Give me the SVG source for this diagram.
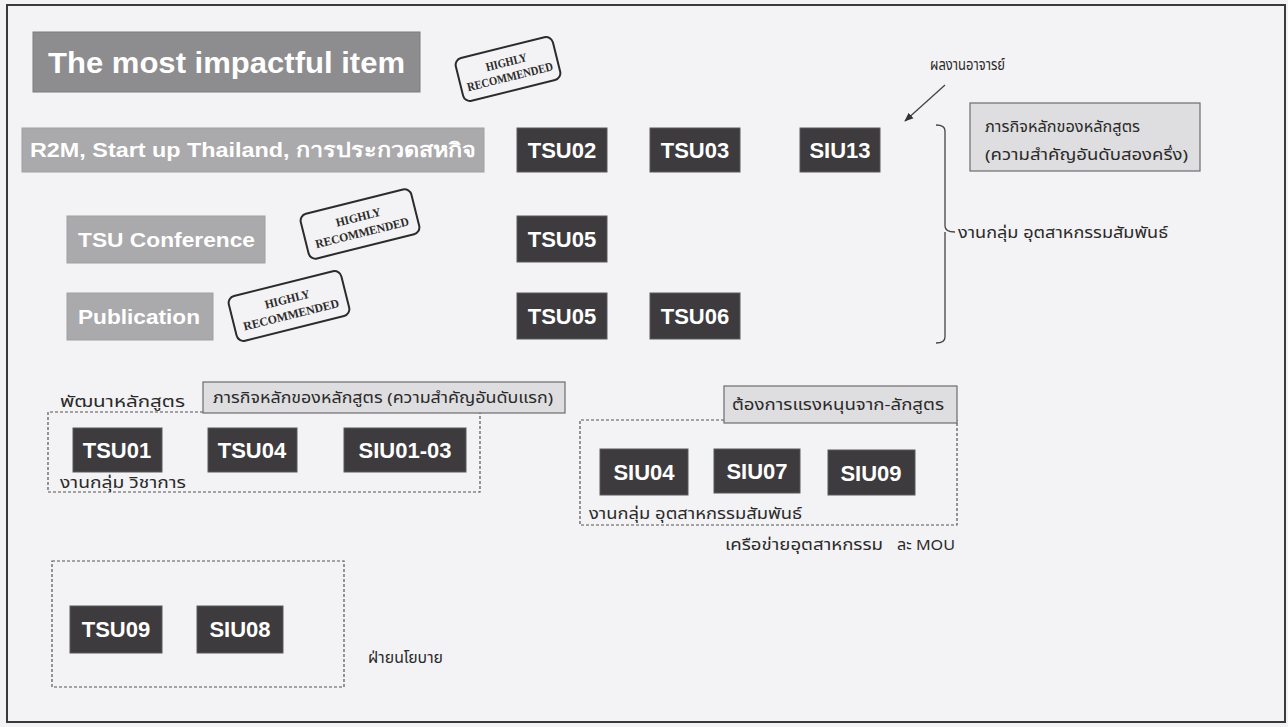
<svg xmlns="http://www.w3.org/2000/svg" width="1288" height="727" viewBox="0 0 1288 727">
<defs>
<style>
.bg{fill:#f3f2f4}
.frame{fill:none;stroke:#3a3a3a;stroke-width:2}
.head{fill:#8d8c8e;stroke:#7c7b7d;stroke-width:1}
.bar{fill:#aaa9ab;stroke:#a0a0a2;stroke-width:1}
.dark{fill:#3e3b3e;stroke:#5a585a;stroke-width:1}
.lbl{fill:#dedddf;stroke:#6d6c6e;stroke-width:1.2}
.dash{fill:none;stroke:#555;stroke-width:1.2;stroke-dasharray:3 2}
.wt{fill:#ffffff;font-family:"Liberation Sans",Arial,"Noto Sans",sans-serif;font-weight:bold}
.dt{fill:#ffffff;font-family:"Liberation Sans",Arial,sans-serif;font-weight:bold;font-size:22px;text-anchor:middle}
.th{fill:#2a2a2a;font-family:"Noto Sans","Noto Sans Thai","DejaVu Sans",sans-serif;font-size:15px}
.stamp rect{fill:none;stroke:#2b2b2b;stroke-width:2}
.stamp text{fill:#2b2b2b;font-family:"Liberation Serif","Times New Roman",serif;font-weight:bold;font-size:12px;text-anchor:middle}
.line{fill:none;stroke:#444;stroke-width:1.3}
</style>
<marker id="ah" viewBox="0 0 10 10" refX="9" refY="5" markerWidth="7" markerHeight="7" orient="auto">
<path d="M0,1 L10,5 L0,9 z" fill="#333"/>
</marker>
</defs>
<rect class="bg" x="0" y="0" width="1288" height="727"/>
<rect class="frame" x="7" y="5" width="1278" height="717"/>

<g id="title">
<rect class="head" x="33" y="32" width="387" height="60"/>
<text class="wt" x="48" y="73" font-size="30" textLength="357" lengthAdjust="spacingAndGlyphs">The most impactful item</text>
</g>

<g id="stamp1" class="stamp" transform="translate(508,69) rotate(-14)">
<rect x="-50" y="-22" width="100" height="44" rx="7"/>
<text x="0" y="-3" textLength="42" lengthAdjust="spacingAndGlyphs">HIGHLY</text>
<text x="0" y="12" textLength="88" lengthAdjust="spacingAndGlyphs">RECOMMENDED</text>
</g>
<g id="stamp2" class="stamp" transform="translate(360,224) rotate(-14)">
<rect x="-57" y="-23" width="114" height="46" rx="7"/>
<text x="0" y="-3" textLength="46" lengthAdjust="spacingAndGlyphs">HIGHLY</text>
<text x="0" y="13" textLength="96" lengthAdjust="spacingAndGlyphs">RECOMMENDED</text>
</g>
<g id="stamp3" class="stamp" transform="translate(289,306) rotate(-14)">
<rect x="-58" y="-23" width="116" height="46" rx="7"/>
<text x="0" y="-3" textLength="46" lengthAdjust="spacingAndGlyphs">HIGHLY</text>
<text x="0" y="13" textLength="98" lengthAdjust="spacingAndGlyphs">RECOMMENDED</text>
</g>

<g id="r2m">
<rect class="bar" x="22" y="128" width="462" height="44"/>
<text class="wt" x="30" y="157" font-size="20" textLength="446" lengthAdjust="spacingAndGlyphs">R2M, Start up Thailand, การประกวดสหกิจ</text>
</g>
<g id="tsu02"><rect class="dark" x="517" y="128" width="90" height="44"/><text class="dt" x="562" y="158">TSU02</text></g>
<g id="tsu03"><rect class="dark" x="650" y="128" width="90" height="44"/><text class="dt" x="695" y="158">TSU03</text></g>
<g id="siu13"><rect class="dark" x="800" y="128" width="80" height="44"/><text class="dt" x="840" y="158">SIU13</text></g>

<g id="note-lecturer"><text class="th" x="930" y="70" font-size="14" textLength="75" lengthAdjust="spacingAndGlyphs">ผลงานอาจารย์</text></g>

<g id="tsuconf">
<rect class="bar" x="67" y="216" width="198" height="47"/>
<text class="wt" x="78" y="247" font-size="21" textLength="177" lengthAdjust="spacingAndGlyphs">TSU Conference</text>
</g>
<g id="tsu05a"><rect class="dark" x="517" y="216" width="90" height="46"/><text class="dt" x="562" y="247">TSU05</text></g>

<g id="publication">
<rect class="bar" x="67" y="293" width="146" height="47"/>
<text class="wt" x="78" y="324" font-size="21" textLength="122" lengthAdjust="spacingAndGlyphs">Publication</text>
</g>
<g id="tsu05b"><rect class="dark" x="517" y="293" width="90" height="46"/><text class="dt" x="562" y="324">TSU05</text></g>
<g id="tsu06"><rect class="dark" x="650" y="293" width="90" height="46"/><text class="dt" x="695" y="324">TSU06</text></g>

<g id="mission2">
<rect class="lbl" x="970" y="103" width="230" height="68"/>
<text class="th" x="985" y="132" textLength="155" lengthAdjust="spacingAndGlyphs">ภารกิจหลักของหลักสูตร</text>
<text class="th" x="985" y="160" textLength="203" lengthAdjust="spacingAndGlyphs">(ความสำคัญอันดับสองครึ่ง)</text>
</g>
<g id="industry-label"><text class="th" x="958" y="238" textLength="210" lengthAdjust="spacingAndGlyphs">งานกลุ่ม อุตสาหกรรมสัมพันธ์</text></g>

<g id="connectors">
<line class="line" x1="945" y1="85" x2="905" y2="121" marker-end="url(#ah)"/>
<path class="line" d="M936,125 Q945,125 945,131 L945,226 Q945,232 955,232 M945,232 Q945,238 945,244 L945,337 Q945,343 936,343"/>
</g>

<g id="group-academic">
<text class="th" x="60" y="407" textLength="125" lengthAdjust="spacingAndGlyphs">พัฒนาหลักสูตร</text>
<path class="dash" d="M203,412 L48,412 L48,492 L480,492 L480,412 L565,412"/>
<rect class="lbl" x="203" y="382" width="362" height="31"/>
<text class="th" x="213" y="403" textLength="340" lengthAdjust="spacingAndGlyphs">ภารกิจหลักของหลักสูตร (ความสำคัญอันดับแรก)</text>
<text class="th" x="60" y="488" font-size="14" textLength="126" lengthAdjust="spacingAndGlyphs">งานกลุ่ม วิชาการ</text>
</g>
<g id="tsu01"><rect class="dark" x="73" y="428" width="89" height="44"/><text class="dt" x="117" y="458">TSU01</text></g>
<g id="tsu04"><rect class="dark" x="208" y="428" width="89" height="44"/><text class="dt" x="252" y="458">TSU04</text></g>
<g id="siu0103"><rect class="dark" x="344" y="428" width="122" height="44"/><text class="dt" x="405" y="458">SIU01-03</text></g>

<g id="group-industry">
<path class="dash" d="M724,420 L580,420 L580,525 L957,525 L957,420"/>
<rect class="lbl" x="724" y="386" width="233" height="37"/>
<text class="th" x="732" y="410" textLength="212" lengthAdjust="spacingAndGlyphs">ต้องการแรงหนุนจาก-ลักสูตร</text>
<text class="th" x="589" y="519" textLength="213" lengthAdjust="spacingAndGlyphs">งานกลุ่ม อุตสาหกรรมสัมพันธ์</text>
<text class="th" x="725" y="550" textLength="158" lengthAdjust="spacingAndGlyphs">เครือข่ายอุตสาหกรรม</text>
<text class="th" x="897" y="550" textLength="58" lengthAdjust="spacingAndGlyphs">ละ MOU</text>
</g>
<g id="siu04"><rect class="dark" x="600" y="449" width="88" height="46"/><text class="dt" x="644" y="480">SIU04</text></g>
<g id="siu07"><rect class="dark" x="714" y="449" width="86" height="44"/><text class="dt" x="757" y="479">SIU07</text></g>
<g id="siu09"><rect class="dark" x="828" y="450" width="87" height="45"/><text class="dt" x="871" y="481">SIU09</text></g>

<g id="group-policy">
<rect class="dash" x="52" y="561" width="292" height="126"/>
<text class="th" x="368" y="663" textLength="75" lengthAdjust="spacingAndGlyphs">ฝ่ายนโยบาย</text>
</g>
<g id="tsu09"><rect class="dark" x="70" y="606" width="92" height="47"/><text class="dt" x="116" y="637">TSU09</text></g>
<g id="siu08"><rect class="dark" x="197" y="606" width="86" height="47"/><text class="dt" x="240" y="637">SIU08</text></g>
</svg>
